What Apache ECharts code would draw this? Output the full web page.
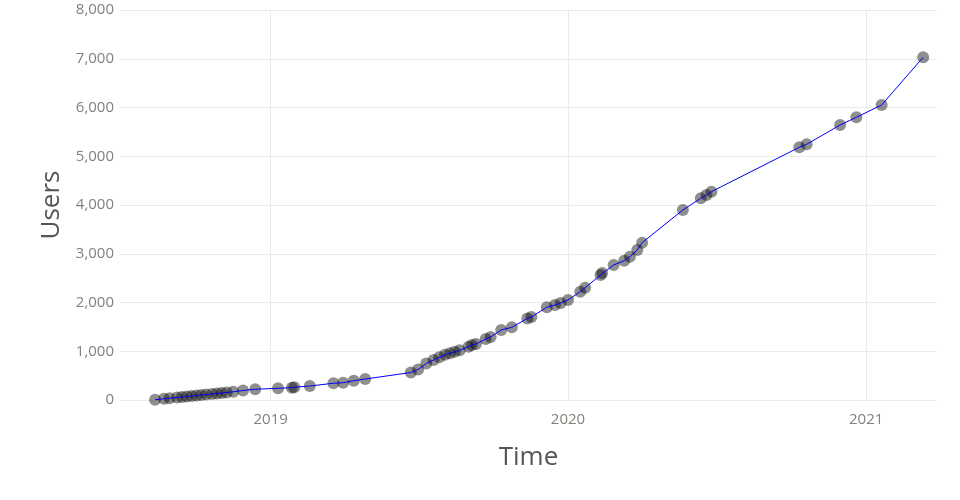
<!DOCTYPE html>
<html><head><meta charset="utf-8">
<script src="https://cdn.jsdelivr.net/npm/echarts@6/dist/echarts.min.js"></script>
<style>html,body{margin:0;padding:0;background:#fff}#c{width:960px;height:500px}</style>
</head><body><div id="c"></div>
<script>
const dates = [
 '2018-08-12','2018-08-23','2018-08-30','2018-09-08','2018-09-14','2018-09-20','2018-09-26','2018-10-02',
 '2018-10-08','2018-10-14','2018-10-21','2018-10-27','2018-11-02','2018-11-08','2018-11-16','2018-11-28',
 '2018-12-13','2019-01-10','2019-01-27','2019-01-30','2019-02-18','2019-03-19','2019-03-31','2019-04-13',
 '2019-04-27','2019-06-22','2019-07-01','2019-07-11','2019-07-20','2019-07-27','2019-08-03','2019-08-09',
 '2019-08-15','2019-08-21','2019-09-01','2019-09-05','2019-09-10','2019-09-22','2019-09-28','2019-10-11',
 '2019-10-24','2019-11-12','2019-11-17','2019-12-06','2019-12-16','2019-12-23','2020-01-01','2020-01-16',
 '2020-01-22','2020-02-10','2020-02-12','2020-02-26','2020-03-10','2020-03-17','2020-03-26','2020-04-01',
 '2020-05-21','2020-06-12','2020-06-19','2020-06-25','2020-10-11','2020-10-20','2020-11-30','2020-12-20',
 '2021-01-20','2021-03-12'
];
const users = [
 6,25,37,51,62,72,82,92,
 103,113,123,133,144,154,168,195,
 220,240,252,262,287,343,355,396,
 430,564,626,749,821,876,927,958,
 989,1019,1093,1128,1149,1251,1292,1436,
 1491,1672,1703,1902,1949,1990,2051,2222,
 2304,2564,2605,2769,2857,2940,3077,3227,
 3897,4137,4205,4273,5184,5245,5641,5799,
 6051,7030
];
const xRange = ['2018-06-30', '2021-03-29'];
const yMin = 0, yMax = 8000, yStep = 1000;

const pts = dates.map((d, i) => [d, users[i]]);
const chart = echarts.init(document.getElementById('c'), null, {renderer: 'canvas'});
const FONT = '"Open Sans", sans-serif';
chart.setOption({
  animation: false,
  backgroundColor: '#fff',
  textStyle: {fontFamily: FONT},
  grid: {left: 120, right: 23, top: 10, bottom: 100, containLabel: false},
  xAxis: {
    type: 'time',
    min: xRange[0], max: xRange[1],
    minInterval: 365 * 86400000, maxInterval: 366 * 86400000,
    splitNumber: 3,
    name: 'Time', nameLocation: 'middle', nameGap: 45,
    nameTextStyle: {fontSize: 26, color: '#555', fontFamily: FONT},
    axisLine: {show: false}, axisTick: {show: false},
    splitLine: {show: true, showMinLine: false, showMaxLine: false, lineStyle: {color: '#ebebeb', width: 1}},
    axisLabel: {fontSize: 15, color: '#85807b', margin: 12, fontFamily: FONT,
      formatter: v => String(new Date(v).getUTCFullYear()), fontWeight: 'normal', hideOverlap: false}
  },
  yAxis: {
    type: 'value', min: yMin, max: yMax, interval: yStep,
    name: 'Users', nameLocation: 'middle', nameGap: 55,
    nameTextStyle: {fontSize: 26, color: '#555', fontFamily: FONT},
    axisLine: {show: false}, axisTick: {show: false},
    splitLine: {show: true, lineStyle: {color: '#ebebeb', width: 1}},
    axisLabel: {fontSize: 15, color: '#85807b', margin: 6, fontFamily: FONT,
      formatter: v => v.toLocaleString('en-US')}
  },
  series: [
    {type: 'scatter', data: pts, symbolSize: 12, z: 2,
     itemStyle: {color: 'rgba(0,0,0,0.55)'}, clip: false},
    {type: 'line', data: pts, showSymbol: false, z: 3,
     lineStyle: {color: '#0000ff', width: 1}, clip: false}
  ]
});
</script></body></html>
